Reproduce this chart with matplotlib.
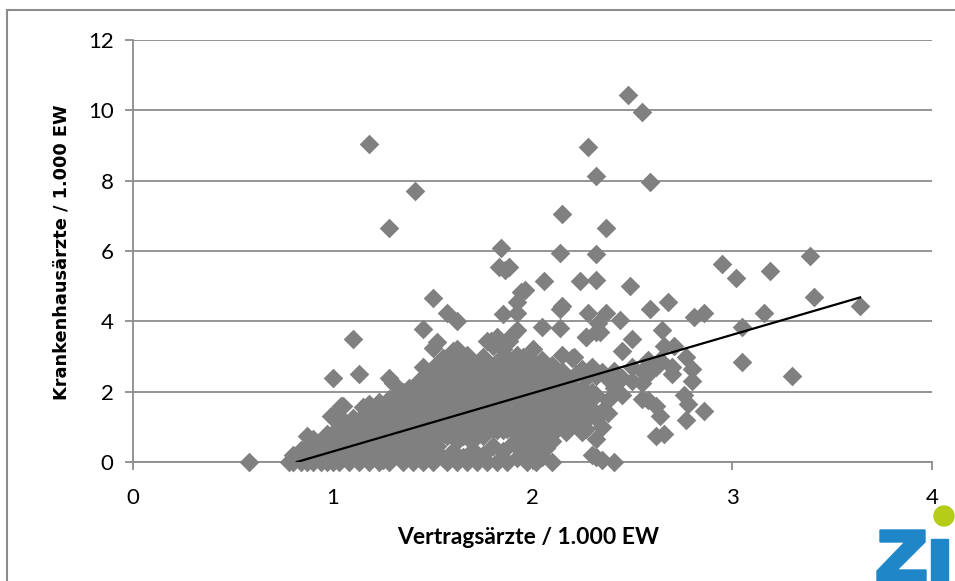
"""
Scatter: Krankenhausärzte vs. Vertragsärzte je 1.000 Einwohner, mit Trendlinie.
Output: out.png (955 x 581 px)
"""

import matplotlib
matplotlib.use("Agg")
import matplotlib.pyplot as plt
from matplotlib.patches import Rectangle, Circle, Polygon

# ---------------------------------------------------------------------------
# Data
# ---------------------------------------------------------------------------

# dense cloud, column by column (x, list of y)
cloud = [
    (0.78, [0.0]),
    (0.80, [0.0, 0.05, 0.2]),
    (0.84, [0.0, 0.35, 0.15]),
    (0.87, [0.75, 0.0, 0.45]),
    (0.90, [0.65, 0.2, 0.0]),
    (0.94, [0.5, 0.1, 0.0, 0.3]),
    (0.97, [0.8, 0.55, 0.0, 0.25]),
    (1.00, [1.3, 0.7, 0.4, 0.0, 0.15, 2.4]),
    (1.03, [1.0, 0.6, 0.3, 0.0]),
    (1.05, [1.6, 1.2, 0.85, 0.45, 0.1]),
    (1.08, [0.95, 0.65, 0.0, 0.35]),
    (1.10, [1.25, 0.8, 0.5, 0.15, 3.5]),
    (1.13, [1.05, 0.7, 0.0, 0.4, 2.5]),
    (1.15, [1.55, 1.3, 0.9, 0.55, 0.2]),
    (1.18, [1.65, 1.1, 0.75, 0.0, 0.35]),
    (1.20, [1.4, 1.0, 0.6, 0.25]),
    (1.23, [1.7, 1.25, 0.85, 0.45, 0.0]),
    (1.25, [1.5, 1.1, 0.7, 0.3, 0.05]),
    (1.28, [2.4, 1.8, 1.35, 0.95, 0.55, 0.0]),
    (1.30, [2.25, 1.6, 1.15, 0.75, 0.35]),
    (1.33, [1.9, 1.45, 1.0, 0.6, 0.15]),
    (1.35, [2.0, 1.7, 1.25, 0.85, 0.45, 0.0]),
    (1.38, [2.1, 1.55, 1.1, 0.7, 0.3]),
    (1.40, [2.0, 1.85, 1.4, 0.95, 0.55, 0.0]),
    (1.43, [2.3, 1.65, 1.2, 0.8, 0.4, 0.1]),
    (1.45, [2.7, 3.78, 2.05, 1.5, 1.05, 0.6, 0.0, 1.8, 1.3]),
    (1.48, [2.55, 1.85, 1.3, 0.85, 0.2, 2.2, 1.6, 1.05]),
    (1.50, [3.25, 2.35, 1.7, 1.15, 0.7, 0.0, 4.65, 2.0, 1.4]),
    (1.52, [3.4, 2.8, 2.1, 1.5, 0.95, 0.45, 2.45, 1.25]),
    (1.55, [2.95, 2.5, 1.9, 1.35, 0.8, 0.1, 2.2, 1.6, 1.1]),
    (1.57, [2.65, 2.2, 1.6, 1.1, 0.0, 4.25, 1.95, 1.35, 0.75]),
    (1.60, [3.15, 2.75, 2.0, 1.45, 0.9, 0.3, 2.35, 1.7, 1.2]),
    (1.62, [3.2, 2.4, 1.8, 1.25, 0.6, 0.0, 4.0, 2.1, 1.5, 0.95]),
    (1.65, [2.9, 2.55, 2.1, 1.55, 1.0, 0.15, 1.8, 1.3, 0.75]),
    (1.67, [3.05, 2.3, 1.75, 1.2, 0.7, 0.0, 2.0, 1.45, 0.95]),
    (1.70, [2.8, 2.45, 1.95, 1.4, 0.85, 0.35, 2.2, 1.65, 1.15]),
    (1.72, [2.65, 2.15, 1.6, 1.05, 0.0, 2.4, 1.85, 1.3, 0.75]),
    (1.75, [3.0, 2.5, 1.85, 1.3, 0.75, 0.2, 2.15, 1.55, 1.0]),
    (1.77, [3.45, 2.75, 2.2, 1.65, 1.1, 0.0, 2.45, 1.9, 1.35]),
    (1.80, [3.3, 2.6, 2.05, 1.5, 0.95, 0.45, 2.3, 1.75, 1.2]),
    (1.82, [3.55, 2.85, 2.3, 1.75, 1.2, 0.0, 2.55, 2.0, 1.45, 0.9]),
    (1.85, [3.2, 2.55, 2.0, 1.45, 0.9, 0.3, 2.25, 1.7, 1.15]),
    (1.87, [3.45, 2.95, 2.35, 1.8, 1.25, 0.0, 2.6, 2.05, 1.5, 0.95]),
    (1.90, [3.65, 2.75, 2.15, 1.6, 1.05, 0.55, 2.45, 1.85, 1.3]),
    (1.92, [3.05, 2.45, 1.95, 1.35, 0.8, 0.1, 2.7, 2.2, 1.65, 1.1]),
    (1.95, [3.0, 2.6, 2.1, 1.5, 1.0, 0.4, 2.35, 1.8, 1.25]),
    (1.97, [2.85, 2.3, 1.7, 1.2, 0.65, 0.0, 2.55, 2.0, 1.45, 0.95]),
    (2.00, [3.2, 2.5, 1.9, 1.35, 0.85, 0.3, 2.2, 1.6, 1.1]),
    (2.02, [2.75, 2.2, 1.6, 1.05, 0.55, 0.0, 2.45, 1.85, 1.3, 0.8]),
    (2.05, [2.9, 2.4, 1.8, 1.25, 0.7, 0.15, 2.1, 1.5, 1.0]),
    (2.07, [2.6, 2.0, 1.45, 0.95, 0.4, 2.3, 1.7, 1.2]),
    (2.10, [2.75, 2.25, 1.7, 1.15, 0.0, 0.6, 2.0, 1.4, 0.9]),
    (2.12, [2.45, 1.85, 1.3, 0.9, 2.15, 1.6]),
    (2.15, [3.05, 2.6, 2.05, 1.5, 1.0, 2.3, 1.75, 1.25]),
    (2.17, [2.35, 1.8, 1.25, 0.85]),
    (2.20, [2.95, 2.15, 1.55, 1.05, 1.85]),
    (2.22, [2.5, 1.95, 1.35]),
    (2.25, [2.65, 2.1, 1.6, 0.85]),
    (2.27, [3.55, 2.4, 1.8, 1.2, 0.95]),
    (2.30, [2.7, 2.0, 1.5, 0.2]),
    (2.32, [3.7, 2.45, 1.9, 1.25, 0.65, 0.15]),
    (2.35, [2.55, 1.45, 1.0, 0.05]),
    (2.38, [2.35, 1.75, 1.4]),
    (2.41, [2.6, 2.1, 0.0]),
    (2.45, [1.9, 2.4, 3.15]),
    (2.50, [2.3, 2.7, 3.5]),
    (2.55, [1.8, 2.25, 2.6]),
    (2.58, [1.75, 2.5, 2.9]),
    (2.62, [1.6, 0.75, 2.7]),
    (2.64, [1.3, 2.9]),
    (2.66, [0.8, 3.3]),
]

# isolated points
outlier_x = [2.48, 2.55, 1.18, 2.28, 2.32, 2.59, 1.41, 2.15, 1.28, 2.37,
             1.84, 2.14, 2.32, 2.95, 3.39, 1.83, 1.88, 1.86, 3.02, 3.19,
             2.06, 2.24, 2.32, 2.49, 1.96, 1.94, 1.92, 2.59, 2.68, 2.14,
             2.15, 1.85, 2.28, 2.37, 1.92, 2.44, 2.81, 2.86, 3.16, 3.41,
             3.64, 3.05, 2.05, 2.14, 1.92, 2.33, 2.34, 2.27, 2.65, 2.71,
             1.79, 1.88, 2.21, 2.77, 3.05, 3.30, 2.80, 2.80, 2.70, 2.70,
             2.76, 2.78, 2.77, 2.86, 0.58, 1.04, 0.99]
outlier_y = [10.45, 9.95, 9.05, 8.95, 8.12, 7.95, 7.72, 7.05, 6.65, 6.65,
             6.08, 5.95, 5.92, 5.62, 5.85, 5.55, 5.55, 5.45, 5.22, 5.42,
             5.15, 5.15, 5.18, 5.0, 4.9, 4.82, 4.55, 4.35, 4.55, 4.35,
             4.45, 4.2, 4.25, 4.25, 4.25, 4.05, 4.12, 4.25, 4.25, 4.7,
             4.45, 3.85, 3.85, 3.8, 3.75, 3.95, 3.7, 3.55, 3.75, 3.3,
             3.45, 3.45, 3.0, 3.0, 2.85, 2.45, 2.65, 2.3, 2.5, 2.7,
             1.9, 1.65, 1.2, 1.45, 0.0, 1.6, 1.3]

# linear trend line (end points)
trend_x = [0.82, 3.64]
trend_y = [0.0, 4.68]

x_ticks = [0, 1, 2, 3, 4]
y_ticks = [0, 2, 4, 6, 8, 10, 12]

x_label = "Vertragsärzte / 1.000 EW"
y_label = "Krankenhausärzte / 1.000 EW"

# ---------------------------------------------------------------------------
# Plot
# ---------------------------------------------------------------------------

plt.rcParams.update({
    "font.family": ["Lato", "DejaVu Sans"],
    "font.size": 16,
})

GREY = "#808080"
LINE_GREY = "#8c8c8c"
ZI_BLUE = "#1f87c8"
ZI_GREEN = "#b5cc18"

W, H = 955, 581
fig = plt.figure(figsize=(W / 100, H / 100), dpi=100)
ax = fig.add_axes([133 / W, 1 - 462 / H, (932 - 133) / W, (462 - 40) / H])

pts_x = [x for x, ys in cloud for _ in ys] + outlier_x
pts_y = [y for _, ys in cloud for y in ys] + outlier_y

ax.scatter(pts_x, pts_y, marker="D", s=100, color=GREY, linewidths=0,
           zorder=3, clip_on=False)
ax.plot(trend_x, trend_y, color="black", linewidth=1.6, zorder=4)

ax.set_xlim(0, 4)
ax.set_ylim(0, 12)
ax.set_xticks(x_ticks)
ax.set_yticks(y_ticks)
ax.set_xticklabels([str(t) for t in x_ticks])
ax.set_yticklabels([str(t) for t in y_ticks])

ax.grid(axis="y", color=LINE_GREY, linewidth=1.3, zorder=0)
ax.set_axisbelow(True)
for side in ("top", "right"):
    ax.spines[side].set_visible(False)
for side in ("left", "bottom"):
    ax.spines[side].set_color(LINE_GREY)
    ax.spines[side].set_linewidth(1.3)
ax.tick_params(axis="both", direction="out", length=6, width=1.3,
               color=LINE_GREY, labelsize=16)
ax.tick_params(axis="x", pad=13)
ax.tick_params(axis="y", pad=8)

fig.text(528 / W, 1 - 537 / H, x_label, ha="center", va="center",
         fontsize=16.5, fontweight="bold")
fig.text(62 / W, 1 - 252 / H, y_label, ha="center", va="center",
         rotation=90, fontsize=12.8, fontweight="bold", family="DejaVu Sans")

# outer frame
fig.patches.append(Rectangle((7 / W, -0.05), 1.2, 1 - 10 / H + 0.05,
                             transform=fig.transFigure, fill=False,
                             edgecolor=LINE_GREY, linewidth=1.5))

# "Zi" logo, bottom right (drawn in pixel units, y measured from the top)
def px(x, y):
    return (x / 100, (H - y) / 100)

z_outline = [px(880, 530), px(925, 530), px(925, 542), px(897, 570),
             px(926, 570), px(926, 584), px(877, 584), px(877, 571),
             px(905, 542), px(880, 542)]
fig.patches.append(Polygon(z_outline, closed=True, color=ZI_BLUE,
                           transform=fig.dpi_scale_trans))
fig.patches.append(Rectangle(px(931, 584), 17 / 100, 45 / 100,
                             color=ZI_BLUE, transform=fig.dpi_scale_trans))
fig.patches.append(Circle(px(944, 516), 10 / 100, color=ZI_GREEN,
                          transform=fig.dpi_scale_trans))

fig.savefig("out.png", dpi=100)
